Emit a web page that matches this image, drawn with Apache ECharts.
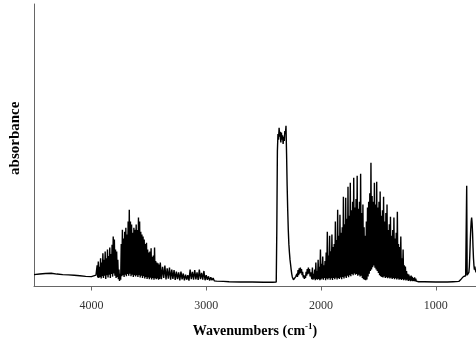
<!DOCTYPE html>
<html>
<head>
<meta charset="utf-8">
<script src="https://cdn.jsdelivr.net/npm/echarts@6/dist/echarts.min.js"></script>
<style>
  html, body { margin: 0; padding: 0; background: #fff; }
  #chart { width: 476px; height: 343px; }
</style>
</head>
<body>
<div id="chart"></div>
<script>
// IR spectrum, absorbance vs wavenumber
const tickValues = [1000, 2000, 3000, 4000];

// irregular baseline pieces: [wavenumber, absorbance]
const baseline4500 = [[4500,0.042],[4450,0.044],[4400,0.046],[4350,0.047],[4300,0.044],[4250,0.042],
  [4200,0.041],[4150,0.040],[4100,0.038],[4050,0.036],[4000,0.035],[3960,0.040]];
const baseline2600 = [[2850,0.018],[2800,0.017],[2700,0.016],[2600,0.016],[2500,0.015],[2420,0.015]];
const baseline1000 = [[1100,0.017],[1000,0.016],[900,0.016],[850,0.017]];

// sampled bands: first wavenumber, step (cm-1), absorbance values
const band3700Start = 3950, band3700Step = 5;
const band3700 = [
  0.075,0.032,0.088,0.030,0.070,0.034,0.100,0.028,0.085,0.036,
  0.118,0.030,0.095,0.038,0.124,0.027,0.100,0.040,0.131,0.032,
  0.108,0.042,0.138,0.030,0.115,0.044,0.148,0.035,0.177,0.046,
  0.166,0.038,0.131,0.030,0.124,0.034,0.095,0.026,0.060,0.020,
  0.045,0.024,0.150,0.036,0.201,0.040,0.170,0.034,0.194,0.042,
  0.208,0.036,0.184,0.044,0.230,0.038,0.272,0.045,0.230,0.036,
  0.219,0.042,0.190,0.034,0.208,0.040,0.201,0.035,0.219,0.040,
  0.200,0.034,0.244,0.040,0.230,0.032,0.194,0.038,0.184,0.030,
  0.177,0.036,0.166,0.028,0.150,0.034,0.155,0.027,0.131,0.032,
  0.120,0.026,0.124,0.031,0.135,0.025,0.105,0.030,0.110,0.024,
  0.138,0.029,0.090,0.026,0.085,0.028,0.082,0.024,0.078,0.027,
  0.085
];
const tail3200Start = 3390, tail3200Step = 10;
const tail3200 = [
  0.026,0.070,0.030,0.074,0.025,0.064,0.028,0.067,0.024,0.060,
  0.027,0.058,0.023,0.053,0.026,0.050,0.022,0.053,0.025,0.046,
  0.022,0.042,0.024,0.040,0.021,0.060,0.026,0.052,0.024,0.058,
  0.025,0.050,0.023,0.060,0.026,0.048,0.024,0.055,0.022,0.040,
  0.024,0.036,0.021,0.033,0.022,0.030,0.020,0.026,0.019,0.020
];
const co2Start = 2390, co2Step = 5;
const co2Band = [
  0.016,0.200,0.480,0.540,0.520,0.562,0.530,0.548,0.510,0.545,
  0.520,0.535,0.505,0.530,0.515,0.550,0.540,0.569,0.470,0.357,
  0.270,0.200,0.150,0.120,0.095,0.078,0.060,0.045,0.034,0.027,
  0.024,0.022,0.022
];
const humpsStart = 2225, humpsStep = 5;
const humps2150 = [
  0.025,0.035,0.028,0.045,0.034,0.058,0.040,0.064,0.045,0.067,
  0.048,0.062,0.040,0.052,0.032,0.040,0.027,0.038,0.030,0.052,
  0.038,0.062,0.044,0.067,0.046,0.062,0.036,0.050
];
const band1600Start = 2085, band1600Step = 5;
const band1600 = [
  0.050,0.026,0.067,0.024,0.045,0.028,0.060,0.022,0.085,0.026,
  0.055,0.024,0.095,0.027,0.070,0.022,0.131,0.025,0.080,0.028,
  0.106,0.024,0.075,0.030,0.090,0.022,0.120,0.028,0.194,0.025,
  0.110,0.030,0.180,0.024,0.125,0.029,0.184,0.023,0.140,0.030,
  0.150,0.026,0.230,0.031,0.165,0.025,0.272,0.030,0.180,0.027,
  0.254,0.032,0.190,0.026,0.210,0.034,0.318,0.028,0.220,0.035,
  0.314,0.030,0.240,0.038,0.353,0.033,0.250,0.040,0.367,0.036,
  0.270,0.044,0.300,0.040,0.385,0.046,0.280,0.042,0.310,0.044,
  0.392,0.038,0.275,0.042,0.300,0.035,0.399,0.038,0.260,0.030,
  0.290,0.026,0.210,0.024,0.180,0.022,0.230,0.025,0.280,0.035,
  0.300,0.045,0.330,0.055,0.438,0.060,0.320,0.068,0.300,0.074,
  0.367,0.066,0.290,0.060,0.371,0.055,0.280,0.048,0.300,0.040,
  0.336,0.036,0.250,0.034,0.270,0.032,0.318,0.035,0.230,0.030,
  0.260,0.033,0.290,0.029,0.200,0.032,0.220,0.028,0.247,0.031,
  0.180,0.027,0.200,0.030,0.244,0.026,0.170,0.029,0.190,0.025,
  0.265,0.028,0.150,0.024,0.140,0.027,0.177,0.023,0.100,0.026,
  0.131,0.022,0.075,0.025,0.071,0.021,0.055,0.024,0.045,0.020,
  0.042,0.022,0.036,0.019,0.039,0.021,0.034,0.019,0.030,0.020,
  0.032,0.018,0.028,0.019,0.025,0.018,0.022,0.017,0.021,0.017,
  0.019,0.017
];
const band670 = [[800,0.018],[790,0.022],[780,0.026],[770,0.032],[765,0.028],[760,0.035],[755,0.030],
  [750,0.036],[745,0.032],[740,0.038],[735,0.040],[731,0.357],[727,0.040],[722,0.035],[717,0.038],
  [712,0.050],[708,0.070],[704,0.110],[700,0.160],[696,0.200],[692,0.230],[688,0.244],[684,0.225],
  [680,0.190],[676,0.140],[672,0.100],[668,0.075],[664,0.060],[660,0.070],[656,0.060],[652,0.055],[650,0.050]];

function sampled(start, step, values) {
  return values.map((v, i) => [start - i * step, v]);
}

const spectrum = [].concat(
  baseline4500,
  sampled(band3700Start, band3700Step, band3700),
  sampled(tail3200Start, tail3200Step, tail3200),
  baseline2600,
  sampled(co2Start, co2Step, co2Band),
  sampled(humpsStart, humpsStep, humps2150),
  sampled(band1600Start, band1600Step, band1600),
  baseline1000,
  band670
);

const serif = 'Liberation Serif';
const chart = echarts.init(document.getElementById('chart'));
chart.setOption({
  animation: false,
  grid: { left: 32, right: 0, top: 4, bottom: 56 },
  xAxis: {
    type: 'value',
    inverse: true,
    min: 650,
    max: 4500,
    name: '{a|Wavenumbers (cm}{s|-1}{a|)}',
    nameLocation: 'middle',
    nameGap: 36,
    nameTextStyle: {
      rich: {
        a: { fontFamily: serif, fontWeight: 'bold', fontSize: 14, color: '#000' },
        s: { fontFamily: serif, fontWeight: 'bold', fontSize: 9, color: '#000', verticalAlign: 'top', padding: [0, 0, 8, 0] }
      }
    },
    axisLine: { lineStyle: { color: '#666', width: 1 } },
    axisTick: { length: 4, customValues: tickValues, lineStyle: { color: '#666' } },
    axisLabel: {
      customValues: tickValues, margin: 13, fontFamily: serif, fontSize: 12, color: '#333',
      formatter: v => String(v)
    },
    splitLine: { show: false }
  },
  yAxis: {
    type: 'value',
    min: 0,
    max: 1,
    name: 'absorbance',
    nameLocation: 'middle',
    nameGap: 11,
    nameTextStyle: { fontFamily: serif, fontWeight: 'bold', fontSize: 15, color: '#000', padding: [0, 0, 0, 14] },
    axisLine: { show: true, lineStyle: { color: '#666', width: 1 } },
    axisTick: { show: false },
    axisLabel: { show: false },
    splitLine: { show: false }
  },
  series: [{
    type: 'line',
    data: spectrum,
    showSymbol: false,
    sampling: 'none',
    lineStyle: { color: '#000', width: 1.4 }
  }]
});
</script>
</body>
</html>
